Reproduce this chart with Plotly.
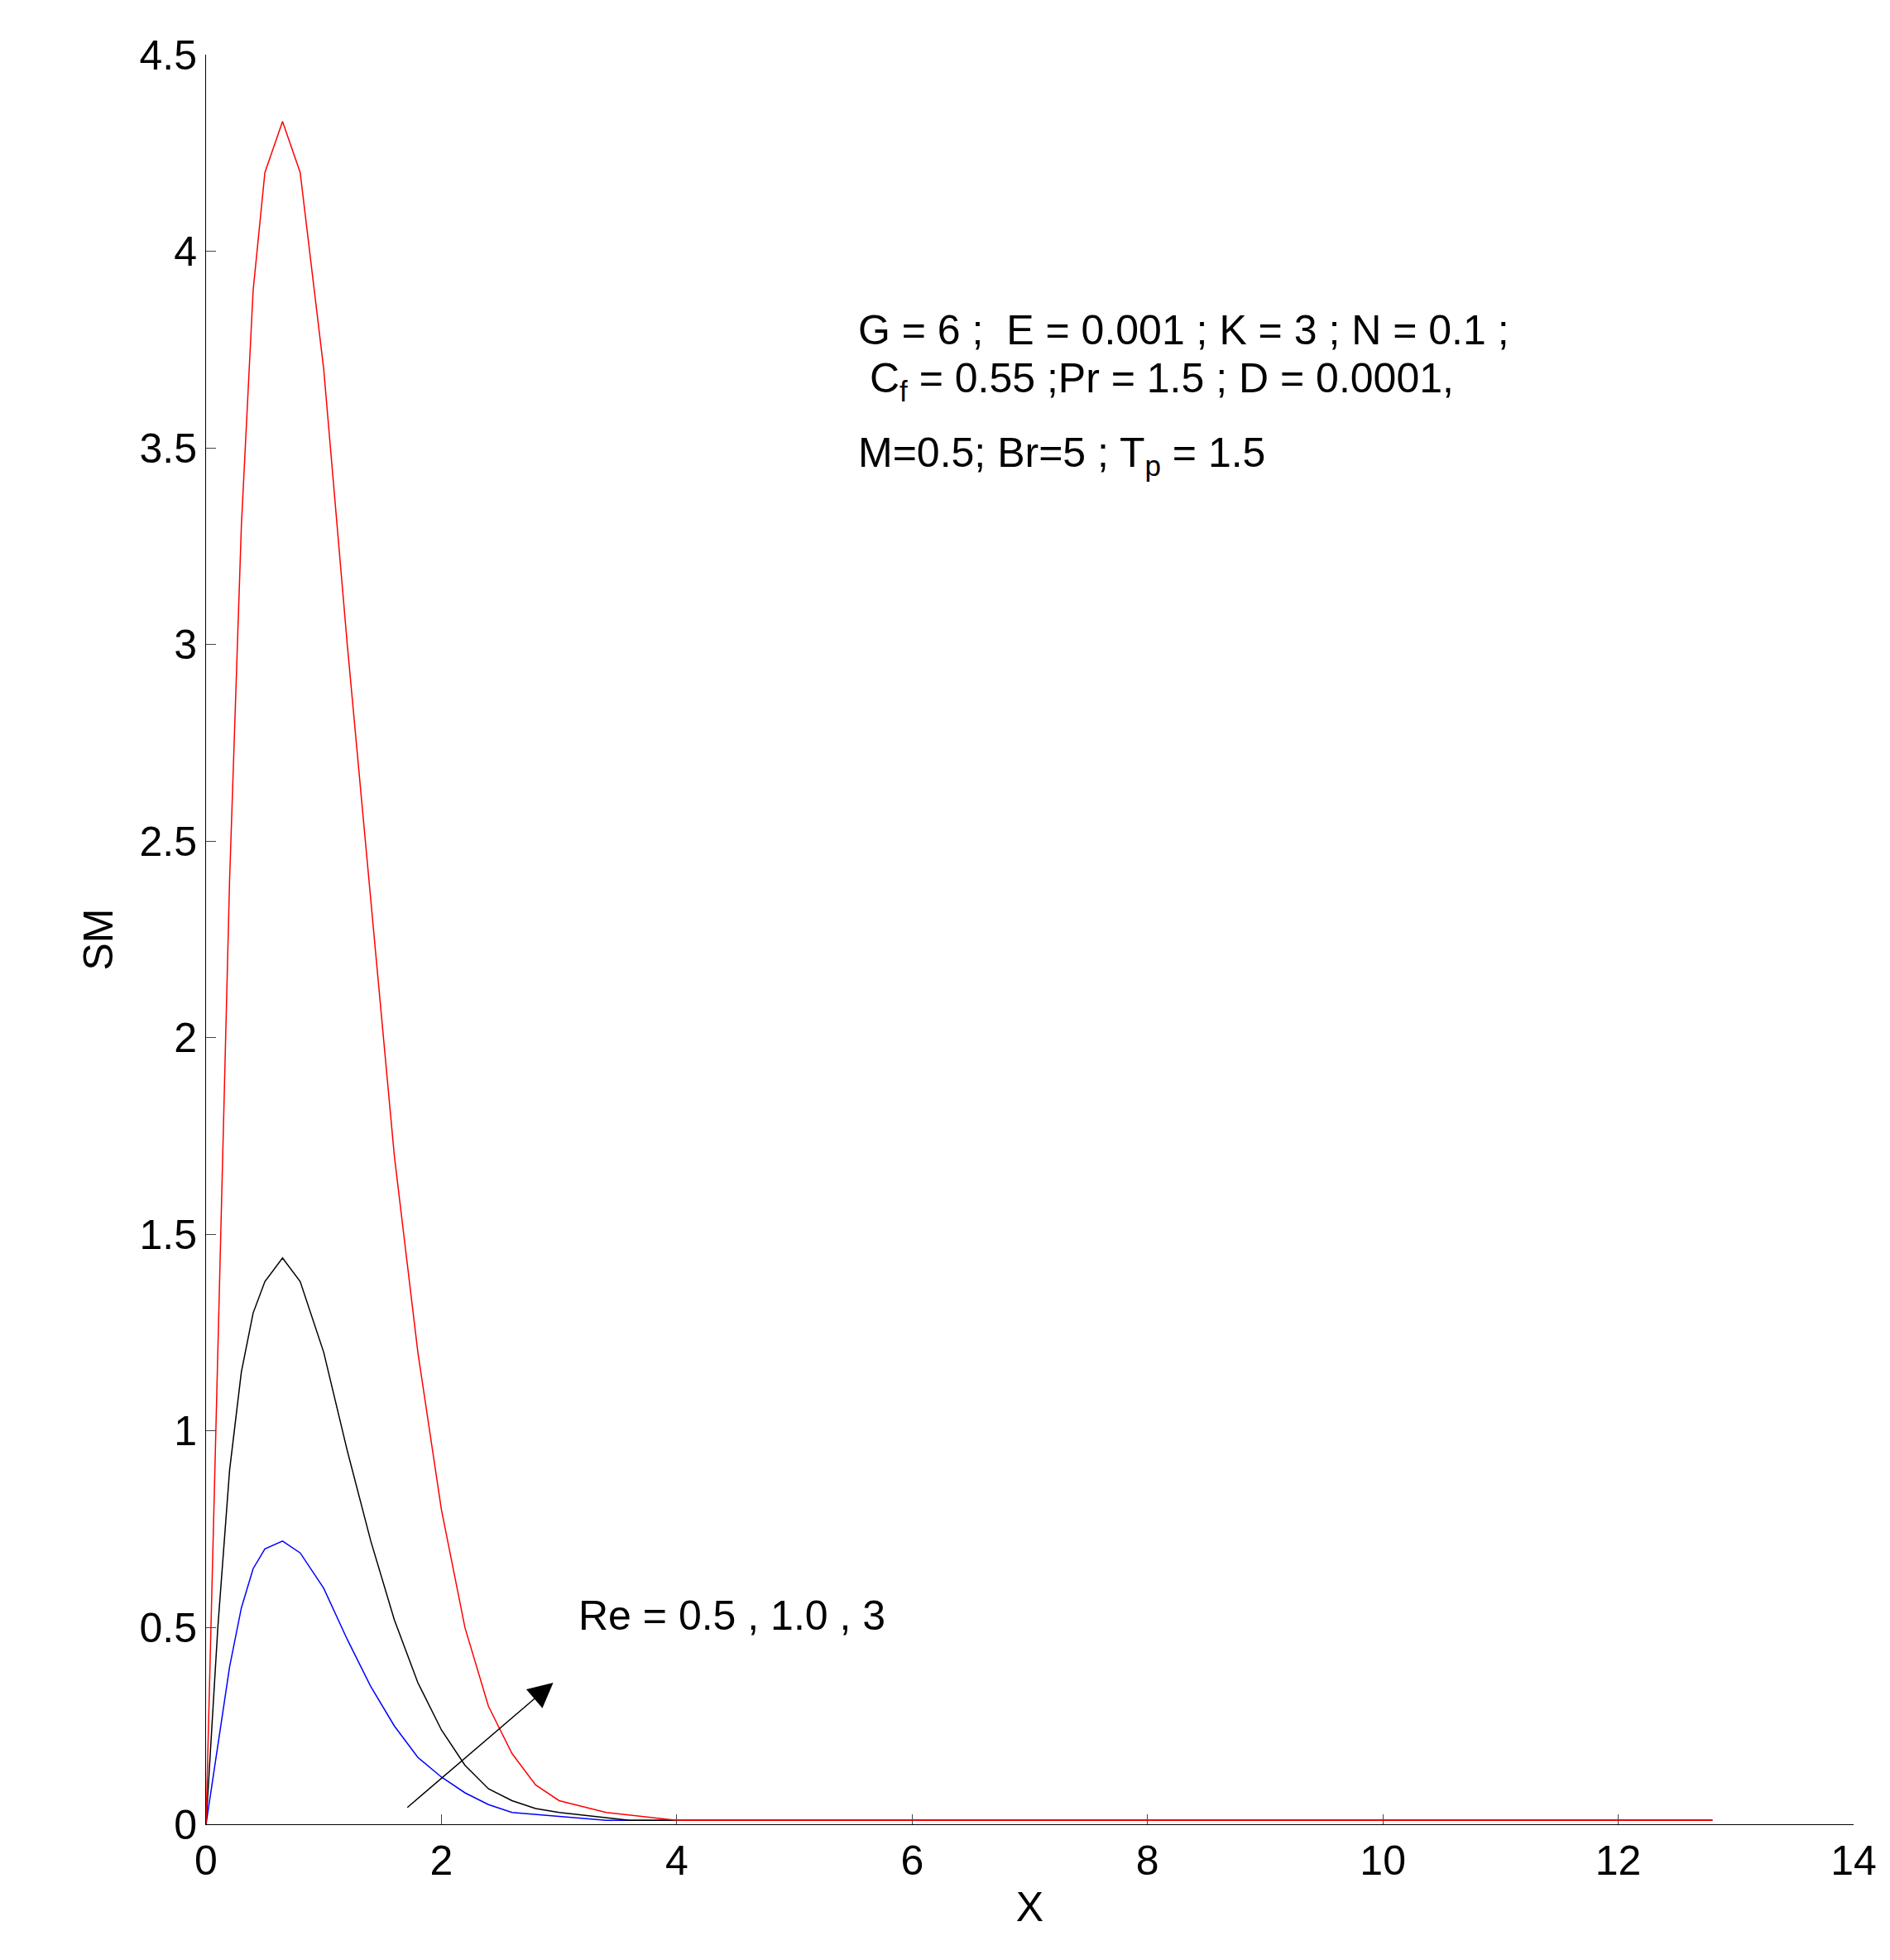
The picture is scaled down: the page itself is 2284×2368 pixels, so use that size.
import plotly.graph_objects as go

# Re = 3 (red), Re = 1.0 (black), Re = 0.5 (blue)
x_red = [0, 0.1, 0.2, 0.3, 0.4, 0.5, 0.65, 0.8, 1.0, 1.2, 1.4, 1.6, 1.8, 2.0, 2.2, 2.4, 2.6, 2.8, 3.0, 3.4, 4.0, 12.8]
sm_red = [0, 1.2, 2.4, 3.3, 3.9, 4.2, 4.33, 4.2, 3.7, 3.0, 2.35, 1.7, 1.2, 0.8, 0.5, 0.3, 0.18, 0.1, 0.06, 0.03, 0.01, 0.01]
x_black = [0, 0.1, 0.2, 0.3, 0.4, 0.5, 0.65, 0.8, 1.0, 1.2, 1.4, 1.6, 1.8, 2.0, 2.2, 2.4, 2.6, 2.8, 3.0, 3.6, 12.8]
sm_black = [0, 0.5, 0.9, 1.15, 1.3, 1.38, 1.44, 1.38, 1.2, 0.95, 0.72, 0.52, 0.36, 0.24, 0.15, 0.09, 0.06, 0.04, 0.03, 0.01, 0.01]
x_blue = [0, 0.1, 0.2, 0.3, 0.4, 0.5, 0.65, 0.8, 1.0, 1.2, 1.4, 1.6, 1.8, 2.0, 2.2, 2.4, 2.6, 3.0, 3.4, 12.8]
sm_blue = [0, 0.2, 0.4, 0.55, 0.65, 0.7, 0.72, 0.69, 0.6, 0.47, 0.35, 0.25, 0.17, 0.12, 0.08, 0.05, 0.03, 0.02, 0.01, 0.01]

FONT = "Liberation Sans, Arial, sans-serif"

fig = go.Figure()
fig.add_trace(go.Scatter(x=x_blue, y=sm_blue, mode="lines", line=dict(color="blue", width=1.5)))
fig.add_trace(go.Scatter(x=x_black, y=sm_black, mode="lines", line=dict(color="black", width=1.5)))
fig.add_trace(go.Scatter(x=x_red, y=sm_red, mode="lines", line=dict(color="red", width=1.5)))

params = [
    (3.80, "G = 6 ;  E = 0.001 ; K = 3 ; N = 0.1 ;"),
    (3.67, " C<sub>f</sub> = 0.55 ;Pr = 1.5 ; D = 0.0001,"),
    (3.48, "M=0.5; Br=5 ; T<sub>p</sub> = 1.5"),
]
for yy, txt in params:
    fig.add_annotation(x=5.53, y=yy, text=txt, showarrow=False, xanchor="left",
                       font=dict(size=50, color="black", family=FONT))

fig.add_annotation(x=3.15, y=0.53, text="Re = 0.5 , 1.0 , 3", showarrow=False, xanchor="left",
                   font=dict(size=50, color="black", family=FONT))
fig.add_annotation(x=2.95, y=0.36, ax=1.7, ay=0.04, axref="x", ayref="y", text="",
                   showarrow=True, arrowhead=2, arrowsize=4, arrowwidth=1.5, arrowcolor="black")

fig.update_layout(
    width=2284, height=2368, plot_bgcolor="white", paper_bgcolor="white", showlegend=False,
    margin=dict(l=241, r=52, t=58, b=172),
    font=dict(family=FONT, size=50, color="black"),
)
fig.update_xaxes(range=[0, 14], dtick=2, ticks="inside", ticklen=12, showgrid=False, zeroline=False,
                 showline=True, linecolor="black", title=dict(text="X", font=dict(size=50), standoff=10))
fig.update_yaxes(range=[0, 4.5], dtick=0.5, ticks="inside", ticklen=12, showgrid=False, zeroline=False,
                 showline=True, linecolor="black", title=dict(text="SM", font=dict(size=50)))
fig.write_html("out.html")
